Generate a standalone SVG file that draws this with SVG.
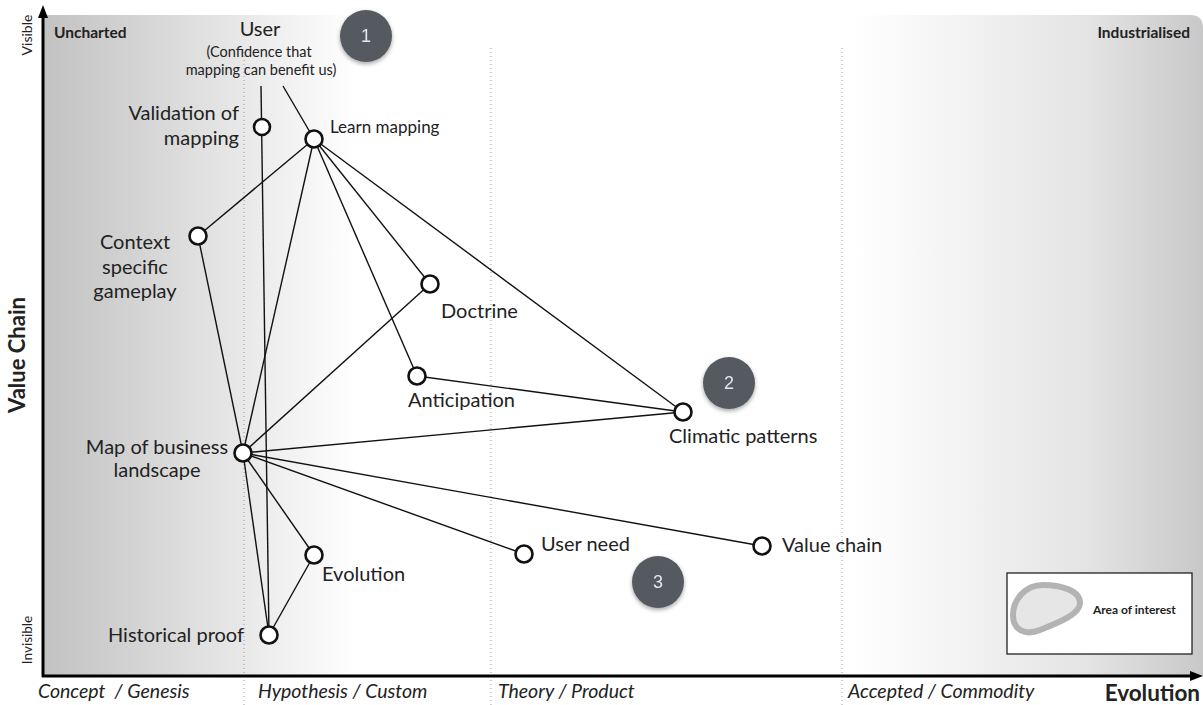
<svg xmlns="http://www.w3.org/2000/svg" width="1203" height="705" viewBox="0 0 1203 705">
<style>
text{font-family:"Lato","Noto Sans","DejaVu Sans",sans-serif;fill:#222}
.n{font-size:20px}
.s{font-size:14.5px}
.b{font-weight:bold;font-size:15.5px}
.ax{font-style:italic;font-size:19.5px}
.node{fill:#fff;stroke:#111;stroke-width:2.6}
.c line{stroke:#111;stroke-width:1.4}
.dot{stroke:#9a9a9a;stroke-width:1;stroke-dasharray:1 3}
.badge{fill:#555a61}
.badge-t{fill:#e6e6e6;font-family:"Liberation Sans",Arial,sans-serif;font-size:18px;text-anchor:middle}
</style>
<defs>
<linearGradient id="bg" x1="44" y1="0" x2="1203" y2="0" gradientUnits="userSpaceOnUse">
<stop offset="0" stop-color="#c2c2c2"/>
<stop offset="0.1" stop-color="#d8d8d8"/>
<stop offset="0.27" stop-color="#ffffff"/>
<stop offset="0.7" stop-color="#ffffff"/>
<stop offset="0.9" stop-color="#e4e4e4"/>
<stop offset="1" stop-color="#c8c8c8"/>
</linearGradient>
<filter id="sh" x="-30%" y="-30%" width="160%" height="160%">
<feDropShadow dx="0" dy="2" stdDeviation="2" flood-color="#000" flood-opacity="0.35"/>
</filter>
</defs>
<rect width="1203" height="705" fill="#fff"/>
<path d="M44 15 H1190 Q1203 15 1203 28 V676 H44 Z" fill="url(#bg)"/>
<g id="dotted">
<line class="dot" x1="244" y1="52" x2="244" y2="705"/>
<line class="dot" x1="491" y1="48" x2="491" y2="705"/>
<line class="dot" x1="842" y1="48" x2="842" y2="705"/>
</g>
<g id="axes">
<line x1="43" y1="677" x2="43" y2="16" stroke="#000" stroke-width="3"/>
<path d="M43 5 L38 18 L48 18 Z" fill="#000"/>
<line x1="42" y1="676" x2="1192" y2="676" stroke="#000" stroke-width="3"/>
<path d="M1203 676 L1190 671 L1190 681 Z" fill="#000"/>
<text transform="translate(32,35) rotate(-90)" text-anchor="middle" font-size="14">Visible</text>
<text transform="translate(32,640) rotate(-90)" text-anchor="middle" font-size="13.5">Invisible</text>
<text transform="translate(25,355) rotate(-90)" text-anchor="middle" font-size="22" font-weight="bold">Value Chain</text>
<text class="b" x="54" y="38">Uncharted</text>
<text class="b" x="1190" y="38" text-anchor="end">Industrialised</text>
<text class="ax" x="38" y="698" xml:space="preserve">Concept  / Genesis</text>
<text class="ax" x="258" y="698">Hypothesis / Custom</text>
<text class="ax" x="498" y="698" font-size="18.8">Theory / Product</text>
<text class="ax" x="848" y="698" font-size="19.2">Accepted / Commodity</text>
<text x="1200" y="701" text-anchor="end" font-size="22.5" font-weight="bold">Evolution</text>
</g>
<g class="c" id="connectors">
<line x1="261" y1="86" x2="269" y2="635"/>
<line x1="283" y1="86" x2="314" y2="139"/>
<line x1="314" y1="139" x2="198" y2="236"/>
<line x1="314" y1="139" x2="243" y2="453"/>
<line x1="314" y1="139" x2="417" y2="376"/>
<line x1="314" y1="139" x2="430" y2="284"/>
<line x1="314" y1="139" x2="683" y2="412"/>
<line x1="198" y1="236" x2="243" y2="453"/>
<line x1="430" y1="284" x2="243" y2="453"/>
<line x1="417" y1="376" x2="683" y2="412"/>
<line x1="243" y1="453" x2="683" y2="412"/>
<line x1="243" y1="453" x2="762" y2="546"/>
<line x1="243" y1="453" x2="524" y2="554"/>
<line x1="243" y1="453" x2="314" y2="555"/>
<line x1="243" y1="453" x2="269" y2="635"/>
<line x1="314" y1="555" x2="269" y2="635"/>
</g>
<g id="user">
<text x="260" y="36" text-anchor="middle" font-size="20">User</text>
<text class="s" x="259" y="57" text-anchor="middle">(Confidence that</text>
<text class="s" x="261" y="75" text-anchor="middle">mapping can benefit us)</text>
</g>
<g id="validation"><circle class="node" cx="262" cy="127" r="8"/><text class="n" x="239" y="120" text-anchor="end">Validation of</text><text class="n" x="239" y="145" text-anchor="end">mapping</text></g>
<g id="learn"><circle class="node" cx="314" cy="139" r="8.5"/><text x="330" y="133" font-size="17">Learn mapping</text></g>
<g id="context"><circle class="node" cx="198" cy="236" r="8.5"/><text class="n" x="135" y="249" text-anchor="middle">Context</text><text class="n" x="135" y="274" text-anchor="middle">specific</text><text class="n" x="135" y="298" text-anchor="middle">gameplay</text></g>
<g id="doctrine"><circle class="node" cx="430" cy="284" r="8.5"/><text class="n" x="441" y="318">Doctrine</text></g>
<g id="anticipation"><circle class="node" cx="417" cy="376" r="8.5"/><text class="n" x="408" y="407">Anticipation</text></g>
<g id="climatic"><circle class="node" cx="683" cy="412" r="8.5"/><text class="n" x="669" y="443">Climatic patterns</text></g>
<g id="map"><circle class="node" cx="243" cy="453" r="8.5"/><text class="n" x="157" y="454" text-anchor="middle">Map of business</text><text class="n" x="157" y="477" text-anchor="middle">landscape</text></g>
<g id="evolution"><circle class="node" cx="314" cy="555" r="8.5"/><text class="n" x="322" y="581">Evolution</text></g>
<g id="userneed"><circle class="node" cx="524" cy="554" r="8.5"/><text class="n" x="541" y="551">User need</text></g>
<g id="valuechain"><circle class="node" cx="762" cy="546" r="8.5"/><text class="n" x="782" y="552">Value chain</text></g>
<g id="historical"><circle class="node" cx="269" cy="635" r="8.5"/><text class="n" x="244" y="642" text-anchor="end">Historical proof</text></g>
<g id="badge1" filter="url(#sh)"><circle class="badge" cx="366" cy="36" r="26"/><text class="badge-t" x="366" y="42">1</text></g>
<g id="badge2" filter="url(#sh)"><circle class="badge" cx="729" cy="383" r="26"/><text class="badge-t" x="729" y="389">2</text></g>
<g id="badge3" filter="url(#sh)"><circle class="badge" cx="658" cy="582" r="26"/><text class="badge-t" x="658" y="588">3</text></g>
<g id="legend">
<rect x="1007" y="573" width="185" height="81" fill="#fff" stroke="#222" stroke-width="1.3"/>
<path d="M1043 585 C1060 585 1080 590 1080 603 C1080 614 1060 622 1040 630 C1025 636 1013 630 1013 615 C1013 600 1025 585 1043 585 Z" fill="#e6e6e6" stroke="#b3b3b3" stroke-width="6"/>
<text x="1093" y="614" font-size="12" font-weight="bold">Area of interest</text>
</g>
</svg>
